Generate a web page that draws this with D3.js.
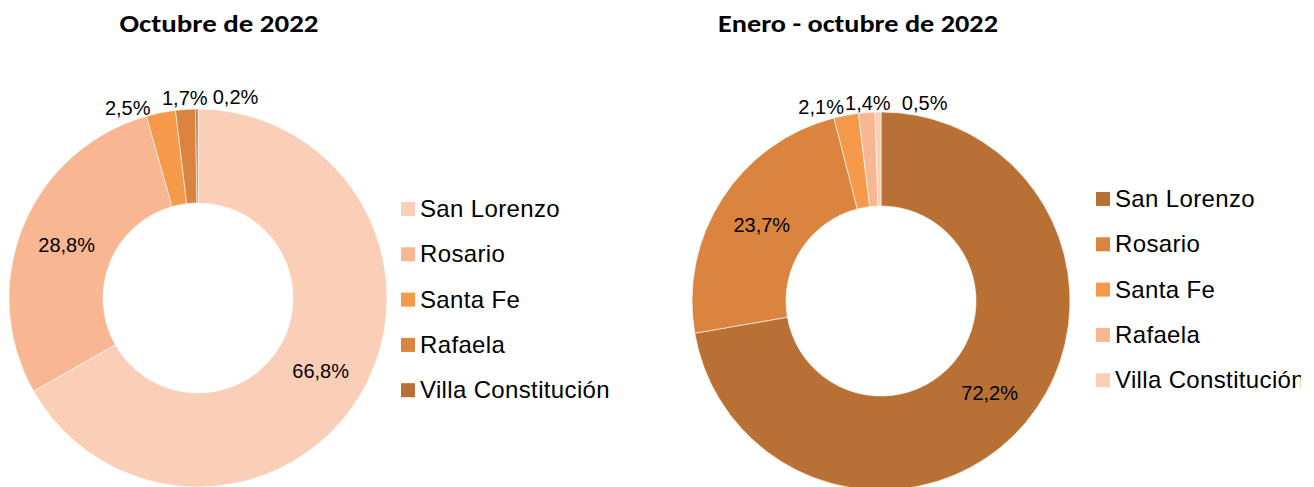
<!DOCTYPE html>
<html>
<head>
<meta charset="utf-8">
<script src="https://cdn.jsdelivr.net/npm/d3@7"></script>
<style>
  body { margin: 0; background: #fff; }
  svg { display: block; }
</style>
</head>
<body>
<div id="container"></div>
<script>
// Data
var categorias = ["San Lorenzo", "Rosario", "Santa Fe", "Rafaela", "Villa Constitución"];
var valoresOctubre = [66.8, 28.8, 2.5, 1.7, 0.2];
var valoresEneroOctubre = [72.2, 23.7, 2.1, 1.4, 0.5];
var titulos = ["Octubre de 2022", "Enero - octubre de 2022"];

var w = 1314;
var h = 487;

var svg = d3.select('#container')
	.append("svg")
	.attr("width", w)
	.attr("height", h);

//The right legend is cut off at the edge of its chart area
svg.append("clipPath")
	.attr("id", "corte")
	.append("rect")
	.attr("x", 0).attr("y", 0)
	.attr("width", 1301).attr("height", h);

var fmt = function(v){ return d3.format(".1f")(v).replace(".", ",") + "%"; };

//Each panel: where it goes and how its colours run
var paneles = [
	{
		titulo: titulos[0], valores: valoresOctubre,
		colores: ["#FBCEB8", "#F8B692", "#F59A4B", "#DA843F", "#B97034"],
		cx: 198, cy: 298, tituloX: 219, tituloW: 199, legX: 401, legY: 209,
		//nudges for the small outside labels (index: [anchor, dx, dy])
		fuera: {2: ["end", -8, 14], 3: ["middle", 0, 8], 4: ["start", 16, 7]}
	},
	{
		titulo: titulos[1], valores: valoresEneroOctubre,
		colores: ["#B97034", "#DA843F", "#F59A4B", "#F8B692", "#FBCEB8"],
		cx: 881, cy: 301, tituloX: 858, tituloW: 280, legX: 1096, legY: 199,
		fuera: {2: ["end", 0, 11], 3: ["middle", 2, 9], 4: ["start", 24, 10]}
	}
];

var rOut = 189, rIn = 95;

var pie = d3.pie().sort(null).value(function(d){ return d.v; });
var arc = d3.arc().innerRadius(rIn).outerRadius(rOut);
var arcLabel = d3.arc().innerRadius(rOut + 12).outerRadius(rOut + 12);

paneles.forEach(function(p){
	var datos = categorias.map(function(c, i){ return {cat: c, v: p.valores[i], i: i}; });

	svg.append("text")
		.attr("x", p.tituloX)
		.attr("y", 32)
		.attr("text-anchor", "middle")
		.attr("font-family", "Carlito, Calibri, Lato, sans-serif")
		.attr("font-weight", "bold")
		.attr("font-size", "24px")
		.attr("textLength", p.tituloW)
		.attr("lengthAdjust", "spacingAndGlyphs")
		.attr("fill", "#000")
		.text(p.titulo);

	var g = svg.append("g")
		.attr("transform", "translate(" + p.cx + "," + p.cy + ")");

	var arcos = pie(datos);

	g.selectAll("path")
		.data(arcos)
		.enter()
		.append("path")
		.attr("d", arc)
		.attr("fill", function(d){ return p.colores[d.data.i]; })
		.attr("stroke", "#fff")
		.attr("stroke-width", 0.6);

	g.selectAll("text.lbl")
		.data(arcos)
		.enter()
		.append("text")
		.attr("class", "lbl")
		.attr("font-family", "'Liberation Sans', Arial, sans-serif")
		.attr("font-size", "20px")
		.attr("fill", "#000")
		.each(function(d){
			var t = d3.select(this);
			var o = p.fuera[d.data.i];
			if(o){
				var c = arcLabel.centroid(d);
				t.attr("x", c[0] + o[1]).attr("y", c[1] + o[2]).attr("text-anchor", o[0]);
			} else {
				var c2 = arc.centroid(d);
				t.attr("x", c2[0]).attr("y", c2[1]).attr("dy", "0.4em").attr("text-anchor", "middle");
			}
		})
		.text(function(d){ return fmt(d.data.v); });

	//Legend
	var leg = svg.append("g").attr("clip-path", "url(#corte)");
	var filas = leg.selectAll("g")
		.data(datos)
		.enter()
		.append("g")
		.attr("transform", function(d, i){
			return "translate(" + p.legX + "," + (p.legY + i * 45.3) + ")";
		});
	filas.append("rect")
		.attr("x", 0).attr("y", -7)
		.attr("width", 14).attr("height", 14)
		.attr("fill", function(d){ return p.colores[d.i]; });
	filas.append("text")
		.attr("x", 19).attr("y", 8)
		.attr("font-family", "'Liberation Sans', Arial, sans-serif")
		.attr("font-size", "24px")
		.attr("letter-spacing", "0.35px")
		.attr("fill", "#000")
		.text(function(d){ return d.cat; });
});
</script>
</body>
</html>
